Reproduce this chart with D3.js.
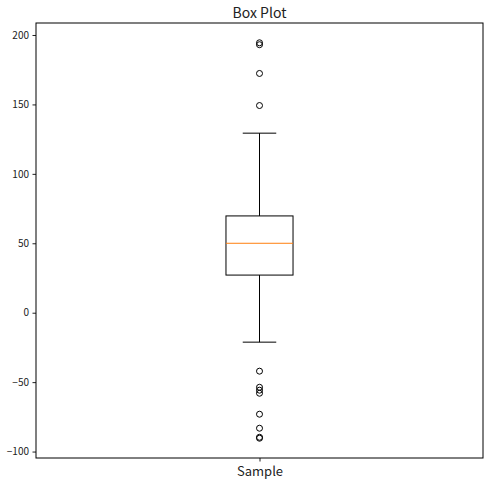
<!DOCTYPE html>
<html><head><meta charset="utf-8">
<script src="https://cdn.jsdelivr.net/npm/d3@7"></script>
<style>
body{margin:0;background:#fff;}
text{font-family:"Noto Sans CJK KR","Noto Sans",sans-serif;fill:#222;}
</style></head><body>
<svg id="chart" width="489" height="485"></svg>
<script>
const categories = ["Sample"];
const quartiles = [27.1, 50.0, 69.7];   // Q1, median, Q3
const whiskers = [-21.2, 129.3];        // low, high
const outliers = [194.4, 193.0, 172.3, 149.2, -42.1, -53.7, -55.8, -58.0, -73.1, -83.2, -89.7, -90.4];
const yTicks = [-100, -50, 0, 50, 100, 150, 200];
const title = "Box Plot";

const svg = d3.select("#chart");
const m = {left:36, right:489-483, top:23, bottom:485-458};
const W = 489, H = 485;
const x0 = m.left, x1 = W - m.right, y0 = m.top, y1 = H - m.bottom;

const allVals = outliers.concat(whiskers);
const lo = d3.min(allVals), hi = d3.max(allVals), pad = (hi - lo) * 0.05;
const y = d3.scaleLinear().domain([lo - pad, hi + pad]).range([y1, y0]);
const x = d3.scaleLinear().domain([0.5, 1.5]).range([x0, x1]);

const boxW = 0.15;
const cx = x(1);

// axes
const yAxis = svg.append("g").attr("transform", `translate(${x0},0)`)
  .call(d3.axisLeft(y).tickValues(yTicks).tickSize(3.5).tickPadding(3.5).tickFormat(d3.format("d")));
yAxis.select(".domain").remove();
yAxis.selectAll("text").style("font-size","10px").attr("fill","#222");
yAxis.selectAll("line").attr("stroke","#222");

const xAxis = svg.append("g").attr("transform", `translate(0,${y1})`)
  .call(d3.axisBottom(x).tickValues([1]).tickSize(3.5).tickPadding(5).tickFormat((d,i)=>categories[i]));
xAxis.select(".domain").remove();
xAxis.selectAll("text").style("font-size","13px").attr("fill","#222");
xAxis.selectAll("line").attr("stroke","#222");

// whiskers
const g = svg.append("g").attr("stroke","#000").attr("stroke-width",1).attr("fill","none");
g.append("line").attr("x1",cx).attr("x2",cx).attr("y1",y(quartiles[2])).attr("y2",y(whiskers[1]));
g.append("line").attr("x1",cx).attr("x2",cx).attr("y1",y(quartiles[0])).attr("y2",y(whiskers[0]));
whiskers.forEach(w=>{
  g.append("line").attr("x1",x(1-boxW/4)).attr("x2",x(1+boxW/4)).attr("y1",y(w)).attr("y2",y(w));
});
// box
g.append("rect").attr("x",x(1-boxW/2)).attr("width",x(1+boxW/2)-x(1-boxW/2))
  .attr("y",y(quartiles[2])).attr("height",y(quartiles[0])-y(quartiles[2]));
svg.append("line").attr("x1",x(1-boxW/2)).attr("x2",x(1+boxW/2))
  .attr("y1",y(quartiles[1])).attr("y2",y(quartiles[1])).attr("stroke","#ff7f0e").attr("stroke-width",1);

// outliers
svg.append("g").selectAll("circle").data(outliers).join("circle")
  .attr("cx",cx).attr("cy",d=>y(d)).attr("r",3).attr("fill","none").attr("stroke","#000").attr("stroke-width",1);

// frame
svg.append("rect").attr("x",x0).attr("y",y0).attr("width",x1-x0).attr("height",y1-y0)
  .attr("fill","none").attr("stroke","#000").attr("stroke-width",1);

svg.append("text").attr("x",(x0+x1)/2).attr("y",y0-5).attr("text-anchor","middle")
  .style("font-size","14px").text(title);
</script></body></html>
